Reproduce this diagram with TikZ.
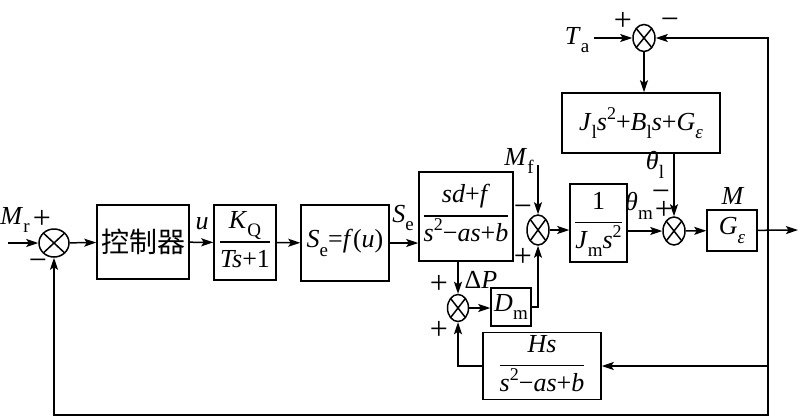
\documentclass[tikz,border=0pt]{standalone}
\usepackage{fontspec}
\setmainfont{Liberation Serif}
\newfontfamily\cjk{Noto Sans CJK SC}
\usetikzlibrary{shapes.geometric,arrows.meta}
\newcommand{\vv}[1]{\textit{#1}}
\newcommand{\sbx}[1]{\raisebox{-0.32em}{\fontsize{19}{19}\selectfont #1}}
\newcommand{\spx}[1]{\raisebox{0.42em}{\fontsize{18}{18}\selectfont #1}}
\setlength{\arrayrulewidth}{1.6pt}
\newcommand{\fr}[2]{\begin{tabular}{@{}c@{}}#1\\[4pt]\hline\rule{0pt}{25pt}#2\end{tabular}}
\begin{document}
\begin{tikzpicture}[x=1pt,y=-1pt,
  line width=1.5pt,
  >={Stealth[length=12pt,width=8pt,inset=2.5pt]},
  every node/.style={font=\fontsize{26}{28}\selectfont, inner sep=0pt},
  blk/.style={draw, rectangle, align=center},
  sgn/.style={font=\fontsize{32}{32}\selectfont, text height=14pt, text depth=0pt},
  sumj/.style={draw, ellipse, minimum width=22pt, minimum height=28pt,
    path picture={\draw[line width=1.5pt]
      (path picture bounding box.north west) -- (path picture bounding box.south east)
      (path picture bounding box.north east) -- (path picture bounding box.south west);}}]
\useasboundingbox (0,0) rectangle (800,418);

% junctions
\node[sumj, minimum width=30pt, minimum height=28pt] (s1) at (54,243) {};
\node[sumj, minimum height=30pt] (s2) at (538,230) {};
\node[sumj, minimum width=21pt, minimum height=27pt] (s3) at (458,308) {};
\node[sumj] (s4) at (674,231) {};
\node[sumj, minimum height=27pt] (s5) at (644,38) {};

% blocks
\node[blk, minimum width=92pt, minimum height=74pt] (ctrl) at (143,242) {\fontsize{28}{30}\selectfont\cjk 控制器};
\node[blk, minimum width=62pt, minimum height=75pt] (kq) at (245,242.5) {\fr{\vv{K}\sbx{Q}}{\vv{Ts}+1}};
\node[blk, minimum width=88pt, minimum height=76pt] (se) at (345,243) {\vv{S}\sbx{e}=\vv{f}(\vv{u})};
\node[blk, minimum width=94pt, minimum height=89pt] (tf) at (466,216.5) {\fr{\vv{sd}+\vv{f}}{\vv{s}\spx{2}−\vv{as}+\vv{b}}};
\node[blk, minimum width=40pt, minimum height=38pt] (dm) at (511,307) {\vv{D}\sbx{m}};
\node[blk, minimum width=57pt, minimum height=78pt] (jm) at (598.5,223) {\fr{1}{\vv{J}\sbx{m}\vv{s}\spx{2}}};
\node[blk, minimum width=158pt, minimum height=60pt] (jl) at (641,123) {\vv{J}\sbx{l}\vv{s}\spx{2}+\vv{B}\sbx{l}\vv{s}+\vv{G}\sbx{\vv{ε}}};
\node[blk, minimum width=50pt, minimum height=41pt] (g) at (732,230.5) {\vv{G}\sbx{\vv{ε}}};
\node[blk, minimum width=118pt, minimum height=58pt] (hs) at (542,366) {\fr{\vv{Hs}}{\vv{s}\spx{2}−\vv{as}+\vv{b}}};

% coordinates
\coordinate (in) at (8,243);
\coordinate (mf) at (538,165);
\coordinate (ta) at (594,38);
\coordinate (out) at (798,230);
\coordinate (br) at (768,230);
\coordinate (bot) at (54,415);

% labels
\node (lMr) at (15,220) {\vv{M}\sbx{r}};
\node[sgn] (p1) at (42,221) {+};
\node[sgn] (m1) at (38,263) {−};
\node (lu) at (202,224) {\vv{u}};
\node (lSe) at (403,218) {\vv{S}\sbx{e}};
\node (lMf) at (519,161) {\vv{M}\sbx{f}};
\node[sgn] (m2) at (523,209) {−};
\node[sgn] (p2) at (523,259) {+};
\node (lDP) at (481,280) {Δ\vv{P}};
\node[sgn] (p3) at (439,286) {+};
\node[sgn] (p4) at (439,332) {+};
\node (lTa) at (577,40) {\vv{T}\sbx{a}};
\node[sgn] (p5) at (623,23) {+};
\node[sgn] (m5) at (670,22) {−};
\node (lthl) at (655,165) {\vv{θ}\sbx{l}};
\node[sgn] (m4) at (661,194) {−};
\node[sgn] (p6) at (664,212) {+};
\node (lthm) at (639,206) {\vv{θ}\sbx{m}};
\node (lM) at (733,196) {\vv{M}};

% connectors
\draw[->] (in) -- (s1);
\draw[->] (s1) -- (ctrl);
\draw[->] (ctrl) -- (kq);
\draw[->] (kq) -- (se);
\draw[->] (se) -- (se -| tf.west);
\draw[->] (mf) -- (s2);
\draw[->] (s2) -- (s2 -| jm.west);
\draw[->] (jm.east |- s4) -- (s4);
\draw[->] (s4) -- (g);
\draw[->] (g) -- (out);
\draw[->] (ta) -- (s5);
\draw[->] (s5) -- (s5 |- jl.north);
\draw[->] (s4 |- jl.south) -- (s4);
\draw[->] (br) |- (s5);
\draw[->] (br) |- (hs);
\draw[->] (br) -- (br |- bot) -- (bot) -- (s1);
\draw[->] (hs.west) -| (s3);
\draw[->] (s3 |- tf.south) -- (s3);
\draw[->] (s3) -- (s3 -| dm.west);
\draw[->] (dm.east) -| (s2);
\end{tikzpicture}
\end{document}
